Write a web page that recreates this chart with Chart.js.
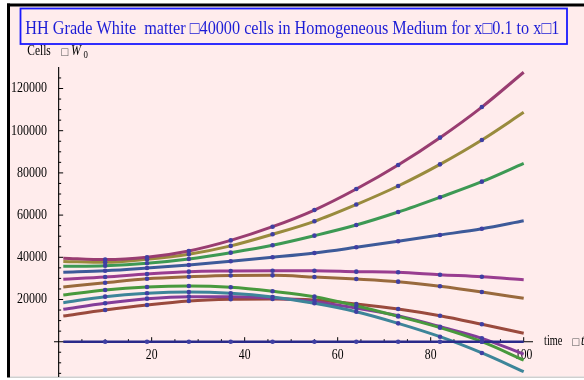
<!DOCTYPE html>
<html>
<head>
<meta charset="utf-8">
<script src="https://cdn.jsdelivr.net/npm/chart.js@4.4.0/dist/chart.umd.min.js"></script>
<style>
    html, body { margin: 0; padding: 0; background: #fff; }
    #grafico { display: block; }
</style>
</head>
<body>
<canvas id="grafico" width="584" height="380"></canvas>
<script>
// Tiempos donde se leyeron los valores (los puntos van de 10 a 91)
const tiempos = [1, 10, 19, 28, 37, 46, 55, 64, 73, 82, 91, 100];

// Valores (células)
const serieCero    = [0, 0, 0, 0, 0, 0, 0, 0, 0, 0, 0, 0];
const serieMagenta = [39600, 38900, 40000, 43000, 48000, 54500, 62400, 72350, 83750, 96700, 111200, 127700];
const serieOliva   = [38000, 37600, 39050, 41400, 45400, 50900, 57050, 65000, 73800, 84050, 95600, 108700];
const serieVerde   = [35700, 36000, 37150, 39200, 42200, 45700, 50250, 55300, 61450, 68450, 75850, 84550];
const serieAzul    = [32950, 33650, 34900, 36350, 38100, 40000, 42050, 44750, 47600, 50550, 53550, 57350];
const serieMorado  = [29600, 30650, 32100, 33200, 33500, 33650, 33650, 33200, 32900, 31750, 30800, 29400];
const serieCafe    = [25950, 27950, 29850, 30800, 31400, 31450, 30650, 29700, 28450, 26250, 23550, 20550];
const serieVerde2  = [22100, 24500, 25900, 26400, 25800, 23900, 21350, 17050, 12000, 6650, 0, -8700];
const serieTurquesa= [18500, 21350, 22950, 23550, 22950, 21200, 18200, 14200, 8700, 2370, -5350, -14200];
const serieMorado2 = [15350, 18200, 20400, 21350, 21350, 20700, 18950, 15950, 12300, 7100, 1600, -5850];
const serieRojo    = [12200, 15000, 17400, 19300, 20100, 20250, 19750, 17850, 15500, 12300, 8250, 4000];

// Etiquetas de los ejes
const ticksX = [20, 40, 60, 80, 100];
const ticksY = [20000, 40000, 60000, 80000, 100000, 120000];

const titulo = 'HH Grade White  matter \u25A140000 cells in Homogeneous Medium for x\u25A10.1 to x\u25A11';

function puntos(valores) {
    return tiempos.map((t, i) => ({ x: t, y: valores[i] }));
}

// Dibuja texto comprimido horizontalmente (como la fuente original)
function texto(ctx, s, x, y, font, align, sx, color, base) {
    ctx.save();
    ctx.font = font;
    ctx.fillStyle = color || '#000';
    ctx.textBaseline = base || 'alphabetic';
    ctx.textAlign = 'left';
    const w = ctx.measureText(s).width * sx;
    let x0 = x;
    if (align === 'right') x0 = x - w;
    if (align === 'center') x0 = x - w / 2;
    ctx.translate(x0, y);
    ctx.scale(sx, 1);
    ctx.fillText(s, 0, 0);
    ctx.restore();
    return w;
}

const fondo = {
    id: 'fondo',
    beforeDraw(chart) {
        const ctx = chart.ctx;
        ctx.save();
        ctx.fillStyle = '#fff';
        ctx.fillRect(0, 0, 584, 380);
        ctx.fillStyle = '#ffecec';
        ctx.fillRect(10, 6.5, 574, 370);
        ctx.fillStyle = '#000';
        ctx.fillRect(7, 3.5, 577, 3);
        ctx.fillRect(7, 3.5, 3, 374);
        ctx.fillStyle = '#cfcfcf';
        ctx.fillRect(10, 376.5, 574, 1.5);

        // Caja del título
        ctx.strokeStyle = '#1a1aff';
        ctx.lineWidth = 1.8;
        ctx.strokeRect(20.5, 8.5, 546.5, 35.5);
        ctx.font = '18px "Liberation Serif"';
        const ancho = ctx.measureText(titulo).width;
        texto(ctx, titulo, 25.3, 33.5, '18px "Liberation Serif"', 'left', 534 / ancho, '#1c1cd6');

        // Título del eje Y
        texto(ctx, 'Cells', 27.3, 55, '15px "Liberation Serif"', 'left', 0.76);
        texto(ctx, '\u25A1', 60.5, 55, '10px "DejaVu Sans"', 'left', 0.9, '#555');
        texto(ctx, 'W', 71, 55, 'italic 15px "Liberation Serif"', 'left', 0.8);
        texto(ctx, '0', 83.5, 58, '11px "Liberation Serif"', 'left', 0.8);

        // Título del eje X
        texto(ctx, 'time', 544, 345, '15px "Liberation Serif"', 'left', 0.69);
        texto(ctx, '\u25A1', 571.5, 345, '10px "DejaVu Sans"', 'left', 0.9, '#555');
        texto(ctx, 't', 581, 345, 'italic 15px "Liberation Serif"', 'left', 0.8);
        ctx.restore();
    }
};

const ejes = {
    id: 'ejes',
    beforeDatasetsDraw(chart) {
        const ctx = chart.ctx;
        const x = chart.scales.x, y = chart.scales.y;
        const x0 = x.getPixelForValue(0);
        const y0 = y.getPixelForValue(0);
        ctx.save();
        ctx.strokeStyle = '#000';
        ctx.lineWidth = 1.1;
        ctx.beginPath();
        ctx.moveTo(x.left, y0); ctx.lineTo(x.right, y0);
        ctx.moveTo(x0, y.top); ctx.lineTo(x0, y.bottom);
        ctx.stroke();

        // Marcas del eje X (menores cada 5)
        ctx.lineWidth = 1;
        ctx.beginPath();
        for (let v = 5; v <= 100; v += 5) {
            const px = x.getPixelForValue(v);
            const largo = ticksX.includes(v) ? 4.5 : 2.5;
            ctx.moveTo(px, y0); ctx.lineTo(px, y0 - largo);
        }
        // Marcas del eje Y (menores cada 5000)
        for (let v = -15000; v <= 125000; v += 5000) {
            if (v === 0) continue;
            const py = y.getPixelForValue(v);
            const largo = ticksY.includes(v) ? 4.5 : 2.5;
            ctx.moveTo(x0, py); ctx.lineTo(x0 + largo, py);
        }
        ctx.stroke();

        ticksX.forEach(v => {
            texto(ctx, String(v), x.getPixelForValue(v), 359, '15px "Liberation Serif"', 'center', 0.78);
        });
        ticksY.forEach(v => {
            texto(ctx, String(v), 47, y.getPixelForValue(v), '15px "Liberation Serif"', 'right', 0.8, '#000', 'middle');
        });
        ctx.restore();
    }
};

function serie(valores, color, grosor) {
    return {
        data: puntos(valores),
        borderColor: color,
        borderWidth: grosor || 3,
        cubicInterpolationMode: 'monotone',
        pointRadius: ctx => (ctx.dataIndex === 0 || ctx.dataIndex === tiempos.length - 1) ? 0 : 2.3,
        pointBackgroundColor: '#3f3fa3',
        pointBorderWidth: 0
    };
}

const grafico = new Chart(document.getElementById('grafico').getContext('2d'), {
    type: 'line',
    data: {
        datasets: [
            serie(serieCero, '#2a2a8a', 2.5),
            serie(serieMagenta, '#993d71'),
            serie(serieOliva, '#998b3d'),
            serie(serieVerde, '#3d9954'),
            serie(serieAzul, '#3d5a99'),
            serie(serieMorado, '#993d90'),
            serie(serieCafe, '#996a3d'),
            serie(serieVerde2, '#48993d'),
            serie(serieTurquesa, '#3d8599'),
            serie(serieMorado2, '#833d99'),
            serie(serieRojo, '#9a4a3d')
        ]
    },
    options: {
        responsive: false,
        animation: false,
        devicePixelRatio: 1,
        layout: { padding: { left: 54, right: 51, top: 67, bottom: 3 } },
        plugins: { legend: { display: false }, tooltip: { enabled: false }, title: { display: false } },
        scales: {
            x: { type: 'linear', min: -1, max: 102, display: false },
            y: { type: 'linear', min: -16730, max: 130190, display: false }
        }
    },
    plugins: [fondo, ejes]
});
</script>
</body>
</html>
